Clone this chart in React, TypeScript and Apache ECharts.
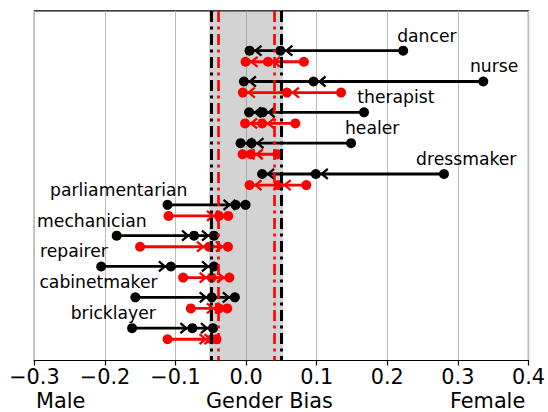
import React, { useEffect, useRef } from "react";
import * as echarts from "echarts";

// ---- data ----
const professions = [
  "dancer",
  "nurse",
  "therapist",
  "healer",
  "dressmaker",
  "parliamentarian",
  "mechanician",
  "repairer",
  "cabinetmaker",
  "bricklayer",
];
// original embeddings (black): start -> intermediate -> final
const origStart = [0.2225, 0.336, 0.167, 0.1487, 0.2803, -0.1114, -0.1834, -0.2054, -0.157, -0.1616];
const origMid = [0.0485, 0.0955, 0.0236, 0.0076, 0.0987, -0.015, -0.0738, -0.1066, -0.0488, -0.0762];
const origEnd = [0.0048, -0.0032, 0.0042, -0.0079, 0.0226, -0.0008, -0.0456, -0.0456, -0.016, -0.047];
// debiased embeddings (red)
const debStart = [0.0818, 0.1345, 0.0697, 0.0443, 0.0852, -0.11, -0.1503, -0.0893, -0.0784, -0.1114];
const debMid = [0.031, 0.0578, 0.0226, 0.0066, 0.0461, -0.0385, -0.0526, -0.0488, -0.0385, -0.049];
const debEnd = [-0.0008, -0.0047, -0.0015, -0.0051, 0.0048, -0.0254, -0.0258, -0.0237, -0.0268, -0.042];
// thresholds
const origThreshold = 0.0525;
const debThreshold = 0.036;
// x-axis ticks
const xMin = -0.3;
const xMax = 0.4;
const xStep = 0.1;

// ---- layout ----
const redRowOffset = 0.36;
const labelAnchorX = [0.214, 0.317, 0.1575, 0.14, 0.2408, -0.0832, -0.141, -0.196, -0.1255, -0.1278];
const FONT = "DejaVu Sans";

function makeRenderItem(color: string, withLabels: boolean) {
  return (params: any, api: any) => {
    const y = api.value(0);
    const s = api.coord([api.value(1), y]);
    const m = api.coord([api.value(2), y]);
    const e = api.coord([api.value(3), y]);
    const children: any[] = [];
    children.push({
      type: "line",
      shape: { x1: s[0], y1: s[1], x2: e[0], y2: e[1] },
      style: { stroke: color, lineWidth: 2.8 },
    });
    const dir = e[0] < s[0] ? -1 : 1;
    for (const p of [m, e]) {
      const tip = p[0] - dir * 6;
      children.push({
        type: "polyline",
        shape: {
          points: [
            [tip - dir * 6, p[1] - 5],
            [tip, p[1]],
            [tip - dir * 6, p[1] + 5],
          ],
        },
        style: { stroke: color, lineWidth: 2.3, fill: "none" },
      });
    }
    for (const p of [s, m, e]) {
      children.push({
        type: "circle",
        shape: { cx: p[0], cy: p[1], r: 5 },
        style: { fill: color },
      });
    }
    if (withLabels) {
      const i = params.dataIndex;
      const lp = api.coord([labelAnchorX[i], y]);
      const female = origStart[i] > 0;
      children.push({
        type: "text",
        style: {
          text: professions[i],
          x: lp[0],
          y: lp[1] - 15,
          fill: "#000",
          font: `17.2px "${FONT}"`,
          fontSize: 17.2,
          fontFamily: FONT,
          align: female ? "left" : "right",
          verticalAlign: "middle",
          textAlign: female ? "left" : "right",
          textVerticalAlign: "middle",
        },
      });
    }
    return { type: "group", children };
  };
}

export default function App() {
  const ref = useRef<HTMLDivElement>(null);
  useEffect(() => {
    if (!ref.current) return;
    document.body.style.margin = "0";
    const chart = echarts.init(ref.current, undefined, { renderer: "svg" });
    const blackData = professions.map((_, i) => [i, origStart[i], origMid[i], origEnd[i]]);
    const redData = professions.map((_, i) => [i + redRowOffset, debStart[i], debMid[i], debEnd[i]]);
    const dashDot = [11, 4.5, 3, 4.5];
    chart.setOption({
      animation: false,
      textStyle: { fontFamily: FONT },
      grid: {
        left: 34.4,
        right: 16.6,
        top: 10.9,
        bottom: 51.5,
        show: true,
        borderColor: "#000",
        borderWidth: 1.2,
        backgroundColor: "transparent",
      },
      xAxis: {
        type: "value",
        min: xMin,
        max: xMax,
        interval: xStep,
        axisLine: { show: true, onZero: false, lineStyle: { color: "#000", width: 1.2 } },
        axisTick: { show: true, length: 5, lineStyle: { color: "#000", width: 1.2 } },
        splitLine: { show: true, lineStyle: { color: "#bcbcbc", width: 1 } },
        axisLabel: {
          color: "#000",
          fontSize: 20.8,
          fontFamily: FONT,
          margin: 6,
          showMinLabel: true,
          showMaxLabel: true,
          formatter: (v: number) => (v < -1e-9 ? "\u2212" : "") + Math.abs(v).toFixed(1),
        },
      },
      yAxis: {
        type: "value",
        inverse: true,
        min: -1.29,
        max: 10.05,
        axisLine: { show: false },
        axisTick: { show: false },
        axisLabel: { show: false },
        splitLine: { show: false },
      },
      series: [
        {
          type: "line",
          data: [],
          z: 1,
          silent: true,
          markArea: {
            silent: true,
            itemStyle: { color: "rgba(128,128,128,0.35)" },
            data: [[{ xAxis: -origThreshold }, { xAxis: origThreshold }]],
          },
          markLine: {
            silent: true,
            symbol: ["none", "none"],
            label: { show: false },
            data: [
              { xAxis: -origThreshold, lineStyle: { color: "#000", width: 3, type: dashDot } },
              { xAxis: origThreshold, lineStyle: { color: "#000", width: 3, type: dashDot } },
              { xAxis: -debThreshold, lineStyle: { color: "#ff0000", width: 2.6, type: dashDot } },
              { xAxis: debThreshold, lineStyle: { color: "#ff0000", width: 2.6, type: dashDot } },
            ],
          },
        },
        {
          type: "custom",
          z: 3,
          renderItem: makeRenderItem("#000000", true),
          encode: { x: [1, 2, 3], y: 0 },
          data: blackData,
        },
        {
          type: "custom",
          z: 3,
          renderItem: makeRenderItem("#ff0000", false),
          encode: { x: [1, 2, 3], y: 0 },
          data: redData,
        },
      ],
      graphic: [
        {
          type: "text",
          left: 36,
          top: 390,
          style: { text: "Male", fill: "#000", font: `20.8px "${FONT}"` },
        },
        {
          type: "text",
          left: 206,
          top: 390,
          style: { text: "Gender Bias", fill: "#000", font: `20.8px "${FONT}"` },
        },
        {
          type: "text",
          left: 450,
          top: 390,
          style: { text: "Female", fill: "#000", font: `20.8px "${FONT}"` },
        },
      ],
    });
    return () => chart.dispose();
  }, []);
  return <div ref={ref} style={{ width: 548, height: 412 }} />;
}
